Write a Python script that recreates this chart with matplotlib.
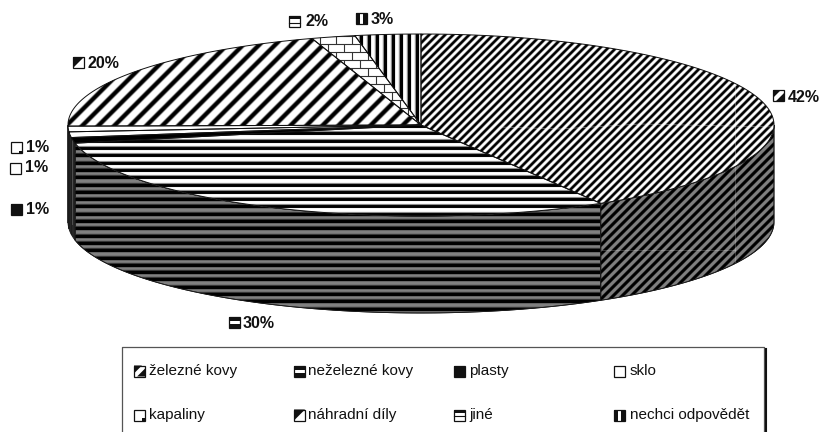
import numpy as np
import matplotlib
matplotlib.use("Agg")
import matplotlib.pyplot as plt
from matplotlib.patches import Polygon, Rectangle
from matplotlib.collections import LineCollection

plt.rcParams['font.family'] = ['Liberation Sans', 'DejaVu Sans']

categories = ["železné kovy", "neželezné kovy", "plasty", "sklo",
              "kapaliny", "náhradní díly", "jiné", "nechci odpovědět"]
# Slice sizes as measured on the drawn pie, and the percentages printed beside them
values = [41.5, 30.3, 1, 1, 1, 20.2, 2, 3]
pct_labels = ["42%", "30%", "1%", "1%", "1%", "20%", "2%", "3%"]

W, H = 822, 432
fig = plt.figure(figsize=(W/100, H/100), dpi=100, facecolor="white")
ax = fig.add_axes([0, 0, 1, 1])
ax.set_xlim(0, W); ax.set_ylim(H, 0); ax.axis("off")

CX, CY, RX, RY, DEPTH = 421, 125, 353, 91, 97
edges = np.concatenate([[0], np.cumsum(values)]) / sum(values) * 360


def arc(a, b, dy=0, n=120):
    t = np.radians(np.linspace(a, b, n))
    return np.column_stack([CX + RX*np.sin(t), CY + dy - RY*np.cos(t)])


def stripes(clip, kind, period, lw, color, z, offset=0.0):
    if kind == "diag":
        c = np.arange(offset, W + H + period, period)
        segs = [[(v, 0), (v - H, H)] for v in c]
    elif kind == "h":
        segs = [[(0, v), (W, v)] for v in np.arange(offset, H, period)]
    else:
        segs = [[(v, 0), (v, H)] for v in np.arange(offset, W, period)]
    lc = LineCollection(segs, colors=color, linewidths=lw*0.72, zorder=z, capstyle="butt")
    ax.add_collection(lc)
    lc.set_clip_path(clip)


def soft(clip, kind, period, wide, core, halo, z, offset=0.0):
    stripes(clip, kind, period, wide, halo, z, offset)
    stripes(clip, kind, period, core, "black", z + 0.1, offset)


def bricks(clip, z):
    row, bw = 8.0, 16.0
    segs = []
    ys = np.arange(28, 130, row)
    for i, y in enumerate(ys):
        segs.append([(280, y), (460, y)])
        for x in np.arange(280 + (i % 2)*bw/2, 460, bw):
            segs.append([(x, y), (x, y + row)])
    lc = LineCollection(segs, colors="#333333", linewidths=0.8, zorder=z)
    ax.add_collection(lc)
    lc.set_clip_path(clip)


side_style = [("diag", 9.0, 3.6, 2.6), ("h", 7.3, 4.4, 3.2)]
first_top = None

# Side walls
for i, v in enumerate(values):
    a, b = max(edges[i], 90), min(edges[i+1], 270)
    if b <= a:
        continue
    pts = np.vstack([arc(a, b), arc(a, b, DEPTH)[::-1]])
    face = "#808080" if i < 2 else "#262626"
    p = Polygon(pts, closed=True, fc=face, ec="#1a1a1a", lw=0.6, zorder=2)
    ax.add_patch(p)
    if i < 2:
        k, per, wide, core = side_style[i]
        soft(p, k, per, wide, core, "#3c3c3c", 2.2, offset=2.0 if i == 1 else 0.0)
        ax.add_patch(Polygon(pts, closed=True, fc="none", ec="#1a1a1a", lw=0.6, zorder=2.5))
    if i == 0:
        for seg in ([(735, 80), (735, 270)], [(602, 250), (735, 250)]):
            ln, = ax.plot(*zip(*seg), color="white", lw=0.5, alpha=0.3, zorder=2.6)
            ln.set_clip_path(p)

# Left wall seam
ax.plot([72, 72], [132, 224], color="#555555", lw=0.6, zorder=3)

# Top faces
for i, v in enumerate(values):
    pts = np.vstack([[CX, CY], arc(edges[i], edges[i+1])])
    fc = "black" if i == 2 else "white"
    p = Polygon(pts, closed=True, fc=fc, ec="none", zorder=4)
    ax.add_patch(p)
    if i == 0:
        soft(p, "diag", 8.0, 3.4, 2.2, "#8a8a8a", 4.2)
        for seg in ([(735, 80), (735, 170)], [(500, 127), (560, 129), (640, 124), (775, 127)]):
            ln, = ax.plot(*zip(*seg), color="white", lw=0.5, alpha=0.45, zorder=4.4)
            ln.set_clip_path(p)
    elif i == 1:
        soft(p, "h", 7.3, 4.2, 2.9, "#8a8a8a", 4.2, offset=2.0)
    elif i == 5:
        soft(p, "diag", 16.0, 5.2, 3.4, "#777777", 4.2)
    elif i == 6:
        bricks(p, 4.2)
    elif i == 7:
        soft(p, "v", 8.0, 4.4, 3.0, "#8a8a8a", 4.2, offset=1.0)
    ax.add_patch(Polygon(pts, closed=True, fc="none",
                         ec="#111111", lw=0.7, zorder=4.6, joinstyle="round"))


def key(kind, x, y, s=11.0):
    ax.add_patch(Rectangle((x, y), s, s, fc="white", ec="none", zorder=6))
    f = dict(fc="#111111", ec="none", zorder=6.2)
    if kind == 0:
        ax.add_patch(Polygon([(x, y), (x+s*.72, y), (x, y+s*.72)], **f))
        ax.add_patch(Polygon([(x+s, y+s), (x+s*.28, y+s), (x+s, y+s*.28)], **f))
    elif kind == 1:
        ax.add_patch(Rectangle((x, y), s, s*.38, **f))
        ax.add_patch(Rectangle((x, y+s*.68), s, s*.32, **f))
    elif kind == 2:
        ax.add_patch(Rectangle((x, y), s, s, **f))
    elif kind == 4:
        ax.add_patch(Rectangle((x+s*.7, y+s*.78), s*.3, s*.22, **f))
    elif kind == 5:
        ax.add_patch(Polygon([(x, y), (x+s, y), (x, y+s)], **f))
    elif kind == 6:
        ax.add_patch(Rectangle((x, y), s, s*.28, **f))
        ax.plot([x, x+s], [y+s*.6]*2, color="#111111", lw=0.8, zorder=6.3)
    elif kind == 7:
        ax.add_patch(Rectangle((x, y), s*.36, s, **f))
        ax.add_patch(Rectangle((x+s*.64, y), s*.36, s, **f))
    ax.add_patch(Rectangle((x, y), s, s, fc="none", ec="#111111", lw=0.9, zorder=6.5))


# Data labels: key left, key top, text left, text centre
label_pos = [(773, 90, 788, 97), (229, 317, 243, 323), (11, 204, 26, 209), (10, 163, 25, 168),
             (11, 142, 26, 147), (73, 57, 87, 63), (289, 16, 305, 22), (356, 13, 371, 19)]
for i, (kx, ky, tx, ty) in enumerate(label_pos):
    key(i, kx, ky)
    ax.text(tx, ty, pct_labels[i], fontsize=11.5, fontweight="bold", color="#111111",
            ha="left", va="center", zorder=7)

# Legend
ax.plot([122, 122, 764, 764], [H, 347, 347, H], color="#555555", lw=0.9, zorder=5)
ax.plot([766, 766], [349, H], color="#111111", lw=1.5, zorder=5)
col_key = [134, 294, 454, 614]
col_txt = [149, 308, 469, 630]
row_y = [371, 415]
for i, name in enumerate(categories):
    r, c = i // 4, i % 4
    key(i, col_key[c], row_y[r] - 5.5)
    ax.text(col_txt[c], row_y[r], name, fontsize=11, color="#111111", ha="left", va="center", zorder=7)

fig.savefig("out.png", dpi=100, facecolor="white")
